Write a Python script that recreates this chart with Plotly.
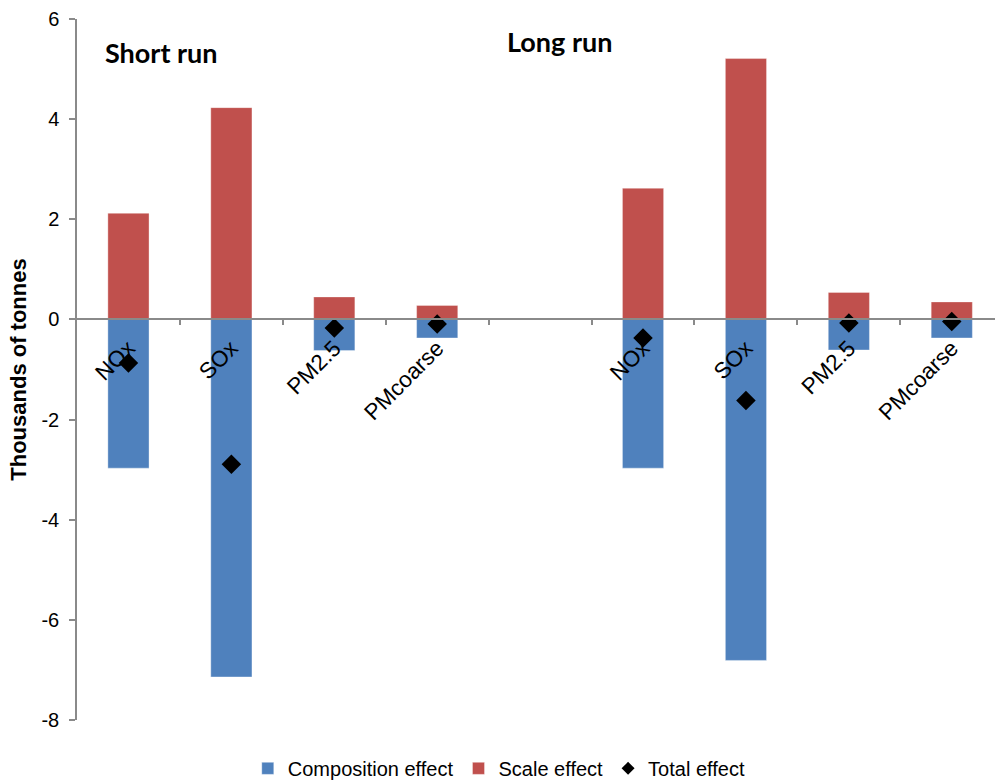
import plotly.graph_objects as go

# Emission effects (thousands of tonnes); slot 4 is the gap between the two horizons
categories = ["NOx", "SOx", "PM2.5", "PMcoarse", "", "NOx", "SOx", "PM2.5", "PMcoarse"]
composition_effect = [-2.97, -7.14, -0.62, -0.37, None, -2.97, -6.81, -0.61, -0.37]
scale_effect = [2.12, 4.23, 0.45, 0.28, None, 2.62, 5.21, 0.54, 0.35]
total_effect = [-0.87, -2.89, -0.17, -0.09, None, -0.37, -1.62, -0.07, -0.04]
period_labels = ["Short run", "Long run"]
y_ticks = [-8, -6, -4, -2, 0, 2, 4, 6]
y_tick_text = ["-8", "-6", "-4", "-2", "0", "2", "4", "6"]

positions = list(range(len(categories)))
label_pos = [i for i, c in enumerate(categories) if c]
label_txt = [c for c in categories if c]

FONT = "Liberation Sans, Arial, sans-serif"
AXIS_GRAY = "#8a8a8a"
BLUE = "#4f81bd"
RED = "#c0504d"

fig = go.Figure()
fig.add_trace(go.Bar(
    x=positions, y=composition_effect, name="Composition effect",
    marker=dict(color=BLUE, line=dict(color="rgba(255,255,255,0.35)", width=1)),
    width=0.4,
))
fig.add_trace(go.Bar(
    x=positions, y=scale_effect, name="Scale effect",
    marker=dict(color=RED, line=dict(color="rgba(255,255,255,0.35)", width=1)),
    width=0.4,
))
fig.add_trace(go.Scatter(
    x=positions, y=total_effect, name="Total effect", mode="markers",
    marker=dict(symbol="diamond", size=15, color="black"),
    showlegend=False,
))
# smaller diamond for the legend entry
fig.add_trace(go.Scatter(
    x=[None], y=[None], name="Total effect", mode="markers",
    marker=dict(symbol="diamond", size=10, color="black"),
))

fig.add_annotation(x=0.32, y=5.33, text="<b>%s</b>" % period_labels[0], showarrow=False,
                   font=dict(family="Lato, sans-serif", size=27, color="black"))
fig.add_annotation(x=4.19, y=5.56, text="<b>%s</b>" % period_labels[1], showarrow=False,
                   font=dict(family="Lato, sans-serif", size=27, color="black"))

fig.update_layout(
    width=995, height=780,
    margin=dict(l=77, r=0, t=19, b=60, autoexpand=False),
    barmode="relative",
    plot_bgcolor="white", paper_bgcolor="white",
    font=dict(family=FONT, size=20, color="black"),
    showlegend=True,
    legend=dict(orientation="h", x=0.46, xanchor="center", y=-0.069, yanchor="middle",
                font=dict(size=20), traceorder="normal", itemwidth=30),
    xaxis=dict(
        range=[-0.5, 8.42], anchor="free", position=8 / 14,
        showline=True, linecolor=AXIS_GRAY, linewidth=1.5,
        showgrid=False, zeroline=False,
        tickmode="array", tickvals=label_pos, ticktext=label_txt,
        tickangle=-45, ticks="", tickfont=dict(size=22.5), ticklabelstandoff=6,
        minor=dict(tickmode="array", tickvals=[p + 0.5 for p in positions[:-1]],
                   ticks="outside", ticklen=5, tickcolor=AXIS_GRAY, tickwidth=1.5,
                   showgrid=False),
    ),
    yaxis=dict(
        range=[-8, 6], domain=[0, 1],
        tickmode="array", tickvals=y_ticks, ticktext=y_tick_text,
        showline=True, linecolor=AXIS_GRAY, linewidth=1.5,
        ticks="outside", ticklen=6, tickcolor=AXIS_GRAY, tickwidth=1.5,
        ticklabelstandoff=6,
        showgrid=False, zeroline=False,
        title=dict(text="<b>Thousands of tonnes</b>", font=dict(size=22), standoff=9),
    ),
)

fig.write_html("out.html", config={"displayModeBar": False})
